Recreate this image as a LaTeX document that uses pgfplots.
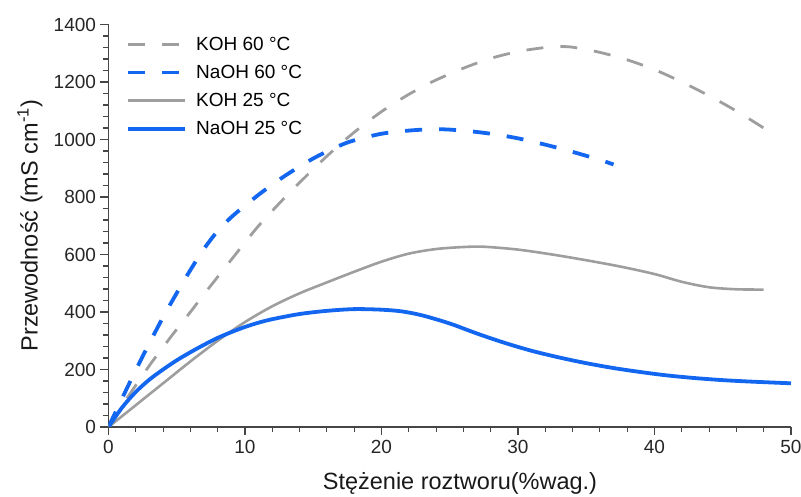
\documentclass[border=0pt]{standalone}
\usepackage{pgfplots}
\pgfplotsset{compat=1.18}
\usepackage{fontspec}
\setmainfont{Liberation Sans}
\definecolor{cgray}{RGB}{158,158,158}
\definecolor{cblue}{RGB}{18,102,240}
\definecolor{caxis}{RGB}{70,70,70}
\begin{document}
\begin{tikzpicture}
\useasboundingbox (0pt,0pt) rectangle (801pt,497pt);
\begin{axis}[
  at={(108.5pt,70pt)}, anchor=south west,
  scale only axis, width=682.5pt, height=402.5pt,
  xmin=0, xmax=50, ymin=0, ymax=1400,
  axis lines=left, axis line style={-, caxis, line width=1.3pt},
  xtick={0,10,...,50}, ytick={0,200,...,1400},
  minor x tick num=4, minor y tick num=4,
  tick align=outside, major tick length=8pt, minor tick length=5pt,
  tick style={caxis, line width=1.1pt},
  /pgf/number format/assume math mode=true,
  /pgf/number format/1000 sep={},
  tick label style={font=\fontsize{19}{19}\selectfont, text=black!85},
  xticklabel style={yshift=-2pt},
  yticklabel style={xshift=-1pt},
  xlabel={Stężenie roztworu(\%wag.)},
  ylabel={Przewodność (mS cm\textsuperscript{-1})},
  label style={font=\fontsize{23.5}{24}\selectfont, text=black!90},
  xlabel style={at={(axis description cs:0.515,-0.139)}, anchor=center},
  ylabel style={at={(axis description cs:-0.115,0.5)}, anchor=center, rotate=0},
  legend style={draw=none, fill=none, at={(axis description cs:0.026,0.975)}, anchor=north west,
    font=\fontsize{19}{19}\selectfont, row sep=9.5pt, inner sep=0pt,
    /tikz/every odd column/.append style={column sep=7pt}},
  legend cell align=left,
  legend image code/.code={\draw[#1] (0pt,0pt) -- (57pt,0pt);},
]
\addplot[cgray, line width=2.8pt, dash pattern=on 17pt off 17pt, smooth] coordinates {
(0,0) (1,75) (2,145) (3,214) (4,278) (5,340) (6,400) (7,462) (8,522) (9,582) (10,642) (11,700)
(12,752) (13,802) (14,850) (15,897) (16,942) (17,985) (18,1025) (19,1062) (20,1097) (21,1128)
(22,1157) (23,1183) (24,1207) (26,1248) (28,1282) (30,1306) (32,1320) (33,1323) (34,1321)
(36,1303) (38,1277) (40,1243) (42,1200) (44,1152) (46,1099) (48,1040)};
\addlegendentry{KOH 60 °C}
\addplot[cblue, line width=3.8pt, dash pattern=on 17pt off 17pt, smooth] coordinates {
(0,0) (1,100) (2,198) (3,292) (4,382) (5,466) (6,546) (7,620) (8,682) (9,730) (10,770) (11,808)
(12,843) (13,876) (14,906) (15,934) (16,958) (17,980) (18,997) (20,1020) (22,1031) (24,1036)
(26,1031) (28,1020) (30,1004) (32,982) (34,957) (36,929) (37,913)};
\addlegendentry{NaOH 60 °C}
\addplot[cgray, line width=2.6pt, smooth] coordinates {
(0,0) (2,76) (4,152) (6,228) (8,300) (10,365) (12,420) (14,465) (16,503) (18,540) (20,575)
(22,603) (24,619) (26,626) (27.5,627) (30,617) (32.5,600) (35,580) (37.5,558) (40,532)
(42,505) (44,486) (46,479) (48,478)};
\addlegendentry{KOH 25 °C}
\addplot[cblue, line width=3.8pt, smooth] coordinates {
(0,0) (1,68) (2,122) (3,165) (4,200) (5,232) (6,260) (7,286) (8,310) (9,330) (10,348) (11,363)
(12,375) (14,393) (16,404) (18,410) (20,408) (21.5,402) (23,388) (25,360) (27,325) (29,293)
(31,265) (33,242) (35,222) (37,205) (39,191) (41,179) (43,170) (45,163) (47,158) (50,152)};
\addlegendentry{NaOH 25 °C}
\end{axis}
\end{tikzpicture}
\end{document}
